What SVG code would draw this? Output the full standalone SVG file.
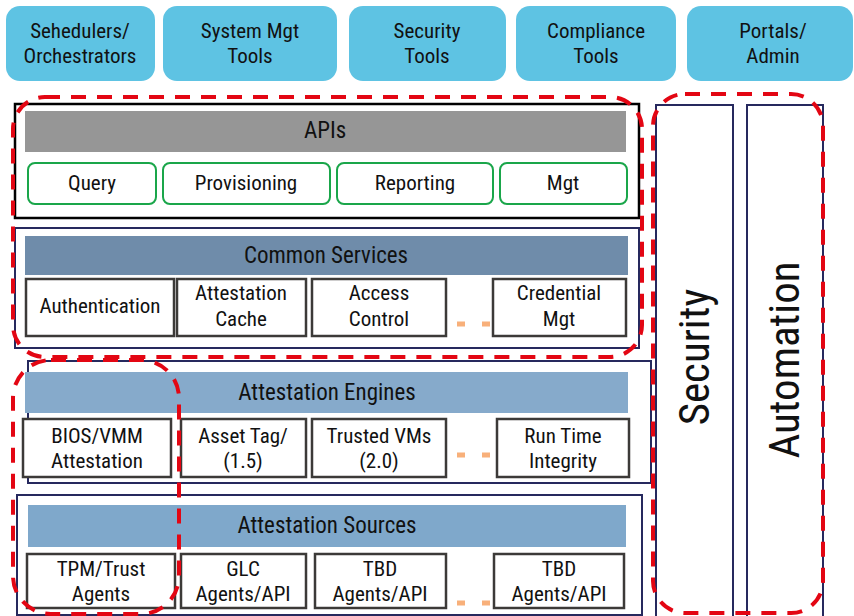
<svg xmlns="http://www.w3.org/2000/svg" width="854" height="616" viewBox="0 0 854 616">
<style>
text{font-family:"Liberation Sans Narrow","Roboto Condensed","Liberation Sans",Arial,sans-serif;font-size:21px;fill:#111;text-anchor:middle}
.top{fill:#5ec3e3}
.api{fill:#fff;stroke:#1aa64a;stroke-width:2}
.svc{fill:#fff;stroke:#3c3a38;stroke-width:2.5}
.nav{fill:#fff;stroke:#26295e;stroke-width:2}
.hdr{font-size:23px}
.big{font-size:43px;text-anchor:middle}
.dots{stroke:#f8b07a;stroke-width:5;stroke-dasharray:8 17}
.red{fill:none;stroke:#e30613;stroke-width:4;stroke-dasharray:15 11}
</style>
<rect width="854" height="616" fill="#fff"/>
<g id="top-tools">
<g id="t1"><rect class="top" x="6" y="6" width="149" height="75" rx="14"/><text x="80" y="38">Sehedulers/</text><text x="80" y="63">Orchestrators</text></g>
<g id="t2"><rect class="top" x="163" y="6" width="174" height="75" rx="14"/><text x="250" y="38">System Mgt</text><text x="250" y="63">Tools</text></g>
<g id="t3"><rect class="top" x="349" y="6" width="157" height="75" rx="14"/><text x="427" y="38">Security</text><text x="427" y="63">Tools</text></g>
<g id="t4"><rect class="top" x="516" y="6" width="160" height="75" rx="14"/><text x="596" y="38">Compliance</text><text x="596" y="63">Tools</text></g>
<g id="t5"><rect class="top" x="687" y="6" width="166" height="75" rx="14"/><text x="773" y="38">Portals/</text><text x="773" y="63">Admin</text></g>
</g>
<g id="apis">
<rect x="15" y="104" width="624" height="114" fill="#fff" stroke="#000" stroke-width="2.5"/>
<rect x="25" y="111" width="601" height="41" fill="#969696"/>
<text class="hdr" x="325" y="138">APIs</text>
<g id="query"><rect class="api" x="28" y="163" width="128" height="41" rx="7"/><text x="92" y="190">Query</text></g>
<g id="provisioning"><rect class="api" x="163" y="163" width="167" height="41" rx="7"/><text x="246" y="190">Provisioning</text></g>
<g id="reporting"><rect class="api" x="337" y="163" width="156" height="41" rx="7"/><text x="415" y="190">Reporting</text></g>
<g id="mgt"><rect class="api" x="500" y="163" width="127" height="41" rx="7"/><text x="563" y="190">Mgt</text></g>
</g>
<g id="common-services">
<rect class="nav" x="15" y="228" width="624" height="120"/>
<rect x="25" y="236" width="603" height="39" fill="#6f8caa"/>
<text class="hdr" x="326" y="263">Common Services</text>
<g id="authentication"><rect class="svc" x="26" y="279" width="148" height="57"/><text x="100" y="313">Authentication</text></g>
<g id="attestation-cache"><rect class="svc" x="177" y="279" width="129" height="57"/><text x="241" y="300">Attestation</text><text x="241" y="326">Cache</text></g>
<g id="access-control"><rect class="svc" x="312" y="279" width="134" height="57"/><text x="379" y="300">Access</text><text x="379" y="326">Control</text></g>
<line class="dots" x1="457" y1="324" x2="491" y2="324"/>
<g id="credential-mgt"><rect class="svc" x="493" y="279" width="133" height="57"/><text x="559" y="300">Credential</text><text x="559" y="326">Mgt</text></g>
</g>
<g id="attestation-engines">
<rect class="nav" x="28" y="361" width="623" height="122"/>
<rect x="25" y="372" width="603" height="41" fill="#86aacb"/>
<text class="hdr" x="327" y="400">Attestation Engines</text>
<g id="bios"><rect class="svc" x="23" y="419" width="148" height="58"/><text x="97" y="443">BIOS/VMM</text><text x="97" y="468">Attestation</text></g>
<g id="asset-tag"><rect class="svc" x="181" y="419" width="125" height="58"/><text x="243" y="443">Asset Tag/</text><text x="243" y="468">(1.5)</text></g>
<g id="trusted-vms"><rect class="svc" x="312" y="419" width="134" height="58"/><text x="379" y="443">Trusted VMs</text><text x="379" y="468">(2.0)</text></g>
<line class="dots" x1="457" y1="455" x2="491" y2="455"/>
<g id="run-time"><rect class="svc" x="497" y="419" width="132" height="58"/><text x="563" y="443">Run Time</text><text x="563" y="468">Integrity</text></g>
</g>
<g id="attestation-sources">
<rect class="nav" x="17" y="495" width="625" height="120"/>
<rect x="28" y="505" width="598" height="42" fill="#7fa8cb"/>
<text class="hdr" x="327" y="533">Attestation Sources</text>
<g id="tpm"><rect class="svc" x="27" y="554" width="148" height="54"/><text x="101" y="576">TPM/Trust</text><text x="101" y="601">Agents</text></g>
<g id="glc"><rect class="svc" x="181" y="554" width="125" height="54"/><text x="243" y="576">GLC</text><text x="243" y="601">Agents/API</text></g>
<g id="tbd1"><rect class="svc" x="315" y="554" width="131" height="54"/><text x="380" y="576">TBD</text><text x="380" y="601">Agents/API</text></g>
<line class="dots" x1="457" y1="603" x2="491" y2="603"/>
<g id="tbd2"><rect class="svc" x="494" y="554" width="130" height="54"/><text x="559" y="576">TBD</text><text x="559" y="601">Agents/API</text></g>
</g>
<g id="security">
<rect class="nav" x="656" y="105" width="77" height="512"/>
<text class="big" transform="translate(709,357) rotate(-90)">Security</text>
</g>
<g id="automation">
<rect class="nav" x="747" y="105" width="76" height="512"/>
<text class="big" transform="translate(799,360) rotate(-90)">Automation</text>
</g>
<g id="connectors">
<rect class="red" x="13" y="97" width="629" height="260" rx="32"/>
<rect class="red" x="13" y="360" width="166" height="254" rx="38"/>
<rect class="red" x="653" y="94" width="170" height="519" rx="32"/>
</g>
</svg>
